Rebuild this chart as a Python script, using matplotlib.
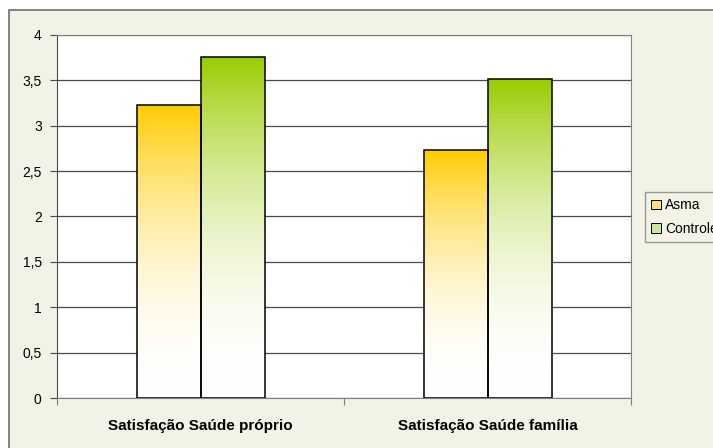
import numpy as np
import matplotlib.pyplot as plt
from matplotlib.patches import Rectangle, Patch
from matplotlib.colors import to_rgb

plt.rcParams['font.family'] = ['Liberation Sans', 'DejaVu Sans']

categories = ['Satisfação Saúde próprio', 'Satisfação Saúde família']
series = ['Asma', 'Controle']
asma = [3.23, 2.73]
controle = [3.76, 3.51]
yticks = [0, 0.5, 1, 1.5, 2, 2.5, 3, 3.5, 4]
ytick_labels = ['0', '0,5', '1', '1,5', '2', '2,5', '3', '3,5', '4']

colors = ['#FFCC00', '#99CC00']
bg = '#F3F2E6'

W, H = 713, 448
fig = plt.figure(figsize=(W / 100, H / 100), dpi=100)
fig.patch.set_facecolor('white')

# chart area frame, kept behind the axes
fig.patches.append(Rectangle((9 / W, -0.01), 1, 1.01 - 10 / H, transform=fig.transFigure,
                             facecolor=bg, edgecolor='#707070', linewidth=1.2, zorder=-5))

ax = fig.add_axes([57 / W, 50 / H, 574 / W, 363 / H])
ax.set_facecolor('white')
ax.set_xlim(0, 2)
ax.set_ylim(0, 4)

ax.set_yticks(yticks)
ax.set_yticklabels(ytick_labels, fontsize=10)
ax.yaxis.grid(True, color='#4a4a4a', linewidth=0.9)
ax.set_axisbelow(True)

ax.set_xticks([0, 1, 2])
ax.set_xticklabels([])
ax.set_xticks([0.5, 1.5], minor=True)
ax.set_xticklabels(categories, minor=True, fontsize=11, fontweight='bold')
ax.tick_params(axis='x', which='minor', length=0, pad=15)
ax.tick_params(axis='x', which='major', length=5, color='#808080')
ax.tick_params(axis='y', length=5, color='#4a4a4a', pad=6)

for side in ['top', 'right']:
    ax.spines[side].set_color('#808080')
ax.spines['left'].set_color('#4a4a4a')
ax.spines['bottom'].set_color('#808080')

bar_w = 64 / 287
x = np.arange(len(categories)) + 0.5
grad = np.linspace(0, 1, 256).reshape(-1, 1)

for i, (vals, c) in enumerate(zip([asma, controle], colors)):
    xs = x + (i - 0.5) * bar_w
    bars = ax.bar(xs, vals, bar_w, facecolor='none', edgecolor='black',
                  linewidth=1.1, zorder=3)
    rgb = np.array(to_rgb(c))
    for b in bars:
        f = grad ** 2.1
        img = (1 - f)[..., None] * np.ones(3) + f[..., None] * rgb
        x0, w, h = b.get_x(), b.get_width(), b.get_height()
        im = ax.imshow(img, extent=[x0, x0 + w, 0, h], origin='lower',
                       aspect='auto', zorder=2)
        im.set_clip_path(b)

handles = [Patch(facecolor='#FFDE80', edgecolor='black', linewidth=0.7),
           Patch(facecolor='#CCE5A0', edgecolor='black', linewidth=0.7)]
leg = fig.legend(handles, series, loc='upper left', bbox_to_anchor=(645 / W, 1 - 192 / H),
                 frameon=True, fancybox=False, fontsize=10, handlelength=0.7,
                 handleheight=0.7, handletextpad=0.3, borderpad=0.45, labelspacing=0.7,
                 borderaxespad=0)
leg.get_frame().set_facecolor(bg)
leg.get_frame().set_edgecolor('#808080')

fig.savefig('out.png', dpi=100, facecolor=fig.get_facecolor())
